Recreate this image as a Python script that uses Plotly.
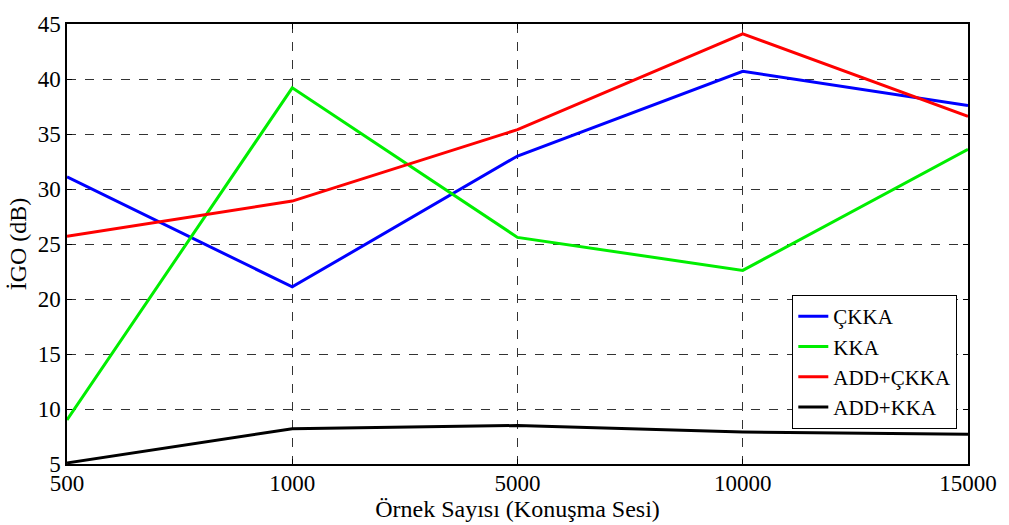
import plotly.graph_objects as go

# Sample counts (speech signal) on an evenly spaced categorical axis
samples = ["500", "1000", "5000", "10000", "15000"]

# Gain values in dB for each method
ckka = [31.1, 21.1, 33.0, 40.7, 37.6]
kka = [9.0, 39.2, 25.6, 22.6, 33.6]
add_ckka = [25.7, 28.9, 35.4, 44.1, 36.6]
add_kka = [5.1, 8.2, 8.5, 7.9, 7.7]

series = [
    ("ÇKKA", ckka, "#0000ff"),
    ("KKA", kka, "#00ee00"),
    ("ADD+ÇKKA", add_ckka, "#ff0000"),
    ("ADD+KKA", add_kka, "#000000"),
]

font_family = "Liberation Serif, Times New Roman, serif"

fig = go.Figure()
for name, vals, color in series:
    fig.add_trace(go.Scatter(
        x=samples, y=vals, mode="lines", name=name,
        line=dict(color=color, width=3),
    ))

axis_common = dict(
    showline=True, linecolor="black", linewidth=1.5, mirror="ticks",
    showgrid=True, gridcolor="#333333", griddash="dash", gridwidth=1,
    ticks="inside", ticklen=5, tickcolor="black",
    tickfont=dict(family=font_family, size=23, color="black"),
    zeroline=False,
)

fig.update_layout(
    width=1009, height=525,
    margin=dict(l=67, r=34, t=19, b=56),
    paper_bgcolor="white", plot_bgcolor="white",
    font=dict(family=font_family, color="black"),
    xaxis=dict(
        type="category", range=[0, 4],
        title=dict(text="Örnek Sayısı (Konuşma Sesi)", font=dict(family=font_family, size=24), standoff=0),
        ticklabelstandoff=-2,
        **axis_common,
    ),
    yaxis=dict(
        range=[5, 45], dtick=5,
        title=dict(text="İGO (dB)", font=dict(family=font_family, size=24), standoff=4),
        **axis_common,
    ),
    legend=dict(
        x=0.805, y=0.384, xanchor="left", yanchor="top",
        bgcolor="white", bordercolor="black", borderwidth=1,
        font=dict(family=font_family, size=21, color="black"),
        tracegroupgap=0, itemwidth=30,
    ),
)

fig.write_html("out.html")
